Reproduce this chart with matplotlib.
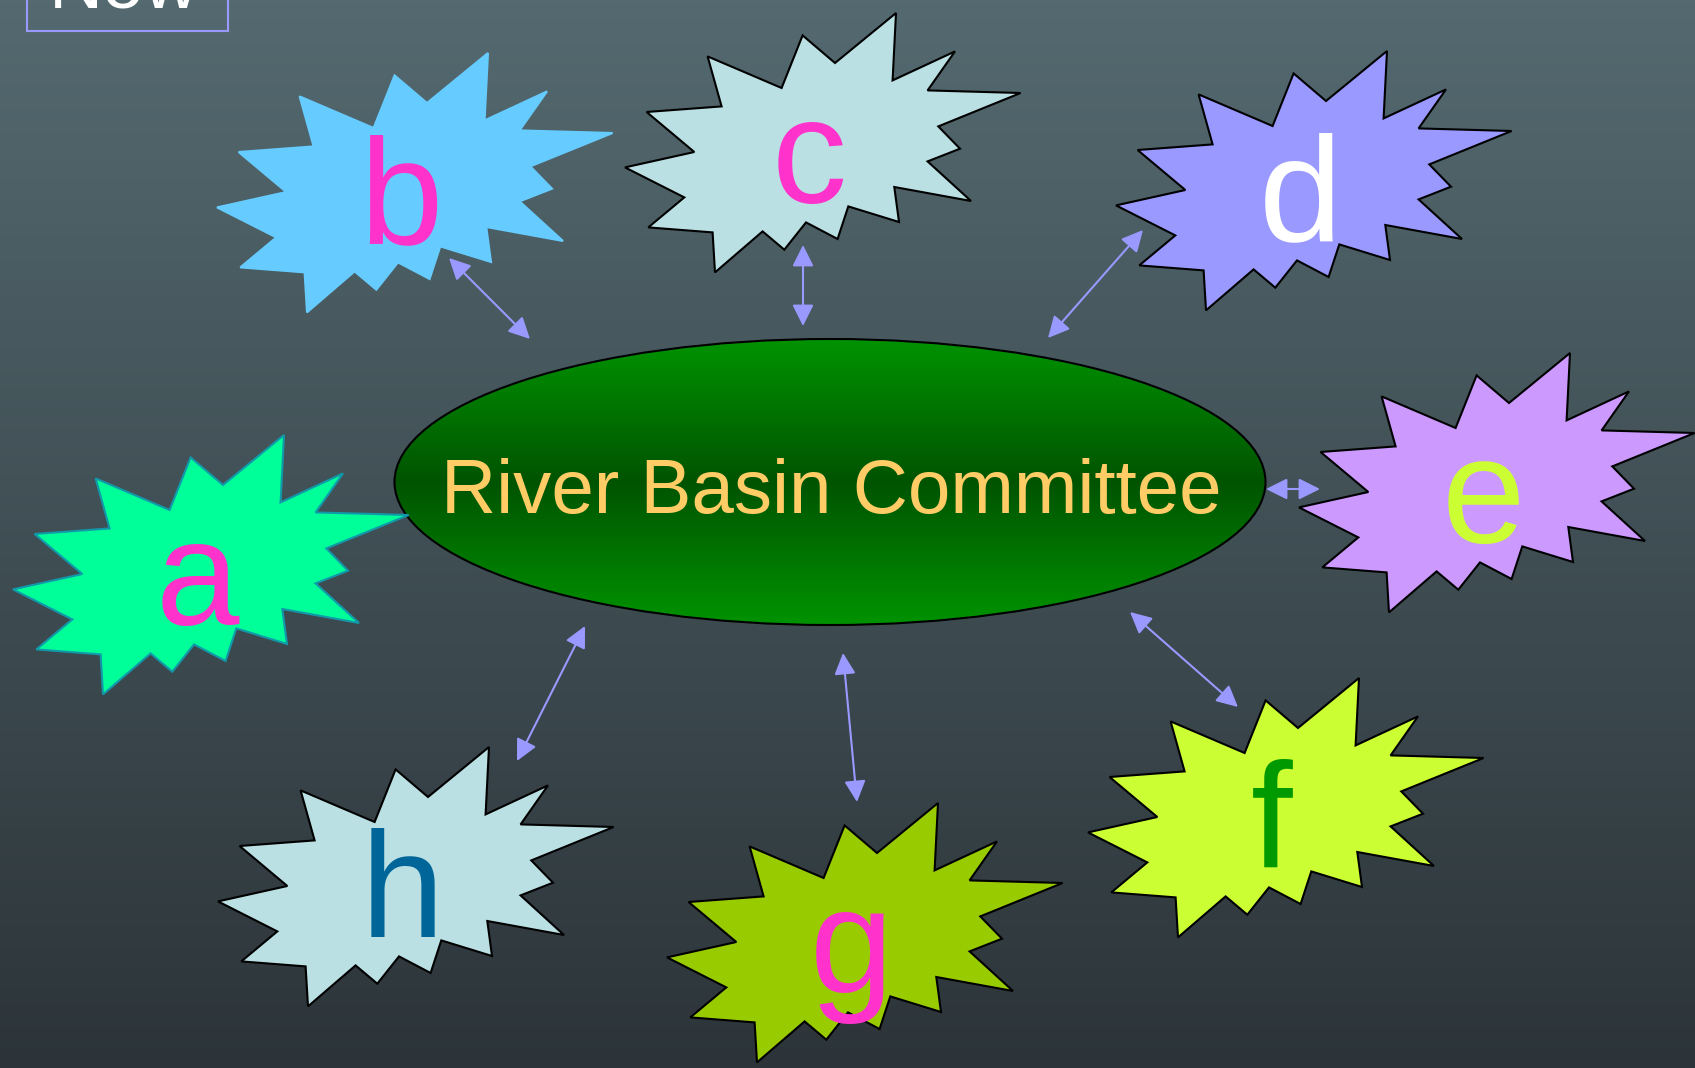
import numpy as np
import matplotlib
matplotlib.use("Agg")
import matplotlib.pyplot as plt
from matplotlib.patches import Ellipse, Polygon, Rectangle, FancyArrowPatch
from matplotlib.colors import LinearSegmentedColormap

W, H = 1695, 1068

# Explosion outline (px offsets from the shape's bounding-box corner)
BURST_X = [0, 69.3, 21.6, 96.6, 82.6, 156.6, 177.6, 210, 271, 267.6, 330, 302.6,
           395.6, 313.3, 335, 302.6, 346, 269.3, 274, 223.3, 212.6, 181, 159.3,
           137.6, 90, 87.6, 23.3, 59.3]
BURST_Y = [154.4, 139, 99, 93.4, 43.4, 75, 22.4, 50, 0, 67.4, 38.4, 77.4,
           80, 113.4, 135.7, 148.4, 188, 174, 209, 193.4, 226, 209.4, 236.7,
           218.4, 259.4, 219.4, 214.4, 184.4]

labels = ["a", "b", "c", "d", "e", "f", "g", "h"]
burst_left = [13, 217, 625, 1116, 1299, 1088, 667, 218]
burst_top = [435, 53, 13, 51, 353, 678, 803, 747]
fill_colors = ["#00ff99", "#66ccff", "#bae0e3", "#9999ff", "#cc99ff", "#ccff33", "#99cc00", "#bae0e3"]
letter_colors = ["#ff33cc", "#ff33cc", "#ff33cc", "#ffffff", "#ccff33", "#009900", "#ff33cc", "#006699"]
edge_colors = ["#1199aa", "none", "black", "black", "black", "black", "black", "black"]

# double-headed links between committee and stakeholders
arrow_start = [(449, 258), (803, 245), (1143, 230), (1266, 489), (1130, 612), (843, 653), (585, 626)]
arrow_end = [(530, 339), (803, 326), (1048, 338), (1320, 489), (1238, 707), (857, 802), (517, 761)]

center_label = "River Basin Committee"
title_text = "Now"

fig = plt.figure(figsize=(W / 100, H / 100), dpi=100)
ax = fig.add_axes([0, 0, 1, 1])
ax.set_xlim(0, W)
ax.set_ylim(H, 0)
ax.axis("off")

# background: vertical slate gradient
bg = LinearSegmentedColormap.from_list("bg", ["#546a70", "#2c3439"])
ax.imshow(np.linspace(0, 1, 256).reshape(-1, 1), cmap=bg, aspect="auto",
          extent=(0, W, H, 0), zorder=0)

# "Now" box, cut off at the top edge
ax.add_patch(Rectangle((27, -60), 201, 91, facecolor="none", edgecolor="#9999ff",
                       lw=1.5, zorder=1))
ax.text(124, 7, title_text, color="white", fontsize=54, family="Liberation Sans",
        ha="center", va="baseline", zorder=2)

# central ellipse with reflected green gradient
ecx, ecy, ew, eh = 830, 482, 871, 286
ell = Ellipse((ecx, ecy), ew, eh, facecolor="none", edgecolor="black", lw=1.5, zorder=3)
t = np.abs(np.linspace(-1, 1, 256)).reshape(-1, 1)
green = LinearSegmentedColormap.from_list("grn", ["#005400", "#009300"])
img = ax.imshow(t, cmap=green, aspect="auto",
                extent=(ecx - ew / 2, ecx + ew / 2, ecy + eh / 2, ecy - eh / 2), zorder=2)
ax.add_patch(ell)
img.set_clip_path(ell)
ax.text(831, 513, center_label, color="#ffcc66", fontsize=55, family="Liberation Sans",
        ha="center", va="baseline", zorder=4)

# arrows
for p0, p1 in zip(arrow_start, arrow_end):
    ax.add_patch(FancyArrowPatch(p0, p1, arrowstyle="<|-|>,head_length=13,head_width=6.5",
                                 mutation_scale=1, color="#9999ff", lw=1.5,
                                 shrinkA=0, shrinkB=0, zorder=3))

# starbursts
bx = np.array(BURST_X)
by = np.array(BURST_Y)
for lab, x0, y0, fc, lc, ec in zip(labels, burst_left, burst_top, fill_colors,
                                    letter_colors, edge_colors):
    pts = np.column_stack([bx + x0, by + y0])
    ax.add_patch(Polygon(pts, closed=True, facecolor=fc,
                         edgecolor=fc if ec == "none" else ec, lw=1.5, zorder=5))
    ax.text(x0 + 184, y0 + 190, lab, color=lc, fontsize=108, family="Liberation Sans",
            ha="center", va="baseline", zorder=6)

fig.savefig("out.png", dpi=100)
